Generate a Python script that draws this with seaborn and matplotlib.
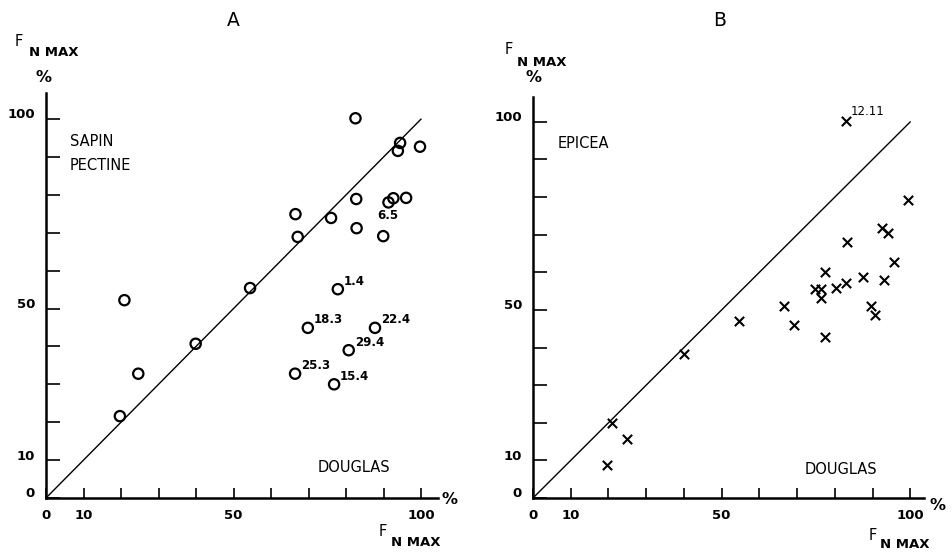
import matplotlib
matplotlib.use("Agg")
import matplotlib.pyplot as plt
import matplotlib.transforms as mtransforms
import numpy as np
import seaborn as sns
import pandas as pd

# panel A : sapin pectine vs douglas (circles)
a_x = [82.5, 94.4, 93.8, 99.7, 82.7, 92.6, 91.3, 96.0, 66.5, 76.0, 82.8, 67.1,
       89.9, 77.8, 54.4, 20.9, 69.8, 87.7, 39.9, 80.7, 24.6, 66.4, 76.8, 19.7]
a_y = [100.2, 93.7, 91.6, 92.7, 78.9, 79.1, 78.0, 79.2, 74.9, 73.9, 71.2, 68.9,
       69.1, 55.1, 55.4, 52.2, 44.9, 44.9, 40.7, 39.0, 32.8, 32.8, 30.0, 21.6]
a_note_text = ['1.4', '18.3', '22.4', '29.4', '25.3', '15.4', '6.5']
a_note_x = [77.8, 69.8, 87.7, 80.7, 66.4, 76.8, 91.3]
a_note_y = [55.1, 44.9, 44.9, 39.0, 32.8, 30.0, 78.0]

# panel B : epicea vs douglas (crosses)
b_x = [83.0, 99.3, 92.5, 94.0, 83.1, 95.6, 77.4, 87.5, 92.9, 83.0, 80.3, 74.8,
       76.3, 76.3, 66.6, 89.6, 90.6, 69.3, 77.5, 54.7, 39.9, 20.9, 24.9, 19.6]
b_y = [100.3, 79.2, 71.8, 70.5, 68.1, 62.8, 60.1, 58.8, 57.9, 57.2, 55.7, 55.5,
       55.5, 53.3, 51.1, 51.0, 48.6, 46.0, 42.7, 47.0, 38.3, 20.0, 15.6, 8.7]
b_note_text = ['12.11']
b_note_x = [83.0]
b_note_y = [100.3]

identity = [0, 100]
ticks = list(range(0, 101, 10))
tick_labels = ['0', '10', '', '', '', '50', '', '', '', '', '100']

sns.set_theme(style='white')
plt.rcParams['font.family'] = ['DejaVu Sans']
plt.rcParams['text.color'] = 'black'
plt.rcParams['xtick.color'] = 'black'
plt.rcParams['ytick.color'] = 'black'
plt.rcParams['xtick.labelcolor'] = 'black'
plt.rcParams['ytick.labelcolor'] = 'black'

W, H = 952, 554
fig = plt.figure(figsize=(W / 100, H / 100), dpi=100)
fig.patch.set_facecolor('white')


def fpos(px, py):
    return px / W, 1 - py / H


ax_a = fig.add_axes([46 / W, 56 / H, 392 / W, 405.5 / H])
ax_b = fig.add_axes([533 / W, 56 / H, 390.5 / W, 401 / H])

df_a = pd.DataFrame({'x': a_x, 'y': a_y})
df_b = pd.DataFrame({'x': b_x, 'y': b_y})
df_line = pd.DataFrame({'x': identity, 'y': identity})

sns.scatterplot(data=df_a, x='x', y='y', ax=ax_a, marker='o', s=55,
                facecolor='none', edgecolor='black', linewidth=1.6, zorder=3)
sns.scatterplot(data=df_b, x='x', y='y', ax=ax_b, marker='x', s=45,
                color='black', linewidth=1.5, zorder=3)

for ax, xmax, ymax in [(ax_a, 104.5, 107), (ax_b, 103.5, 106.6)]:
    sns.lineplot(data=df_line, x='x', y='y', ax=ax, color='black', lw=1.0)
    ax.set_xlim(0, xmax)
    ax.set_ylim(0, ymax)
    ax.set_xlabel('')
    ax.set_ylabel('')
    ax.set_facecolor('white')
    for s in ['top', 'right']:
        ax.spines[s].set_visible(False)
    for s in ['left', 'bottom']:
        ax.spines[s].set_color('black')
        ax.spines[s].set_linewidth(1.8)
    ax.set_xticks(ticks)
    ax.set_xticklabels(tick_labels)
    ax.set_yticks(ticks)
    ax.set_yticklabels(tick_labels)
    ax.set_xticks([50, 100], minor=True)
    ax.tick_params(axis='x', which='major', direction='in', length=7, width=1.2,
                   color='black', pad=8, labelsize=9.5, bottom=True)
    ax.tick_params(axis='x', which='minor', direction='in', length=14, width=1.2,
                   color='black', bottom=True)
    ax.tick_params(axis='y', which='major', direction='in', length=10, width=1.2,
                   color='black', pad=8, labelsize=9.5, left=True)
    for lab in ax.get_xticklabels() + ax.get_yticklabels():
        lab.set_fontweight('bold')
    shift = mtransforms.ScaledTranslation(0, 4 / 72, fig.dpi_scale_trans)
    for lab in ax.get_yticklabels():
        lab.set_transform(lab.get_transform() + shift)

note_font = dict(family=['Liberation Sans Narrow', 'DejaVu Sans'],
                 fontweight='bold', fontsize=8.5, color='black')
for t, x, y in zip(a_note_text, a_note_x, a_note_y):
    if t == '6.5':
        ax_a.annotate(t, (x, y), xytext=(-1, -13), textcoords='offset pixels',
                      ha='center', va='center', **note_font)
    else:
        ax_a.annotate(t, (x, y), xytext=(6, 8), textcoords='offset pixels',
                      ha='left', va='center', **note_font)
for t, x, y in zip(b_note_text, b_note_x, b_note_y):
    ax_b.annotate(t, (x, y), xytext=(5, 9), textcoords='offset pixels',
                  ha='left', va='center', family=['Liberation Sans Narrow', 'DejaVu Sans'],
                  fontsize=8.5, color='black')

# panel letters and captions
fig.text(*fpos(233, 20), 'A', ha='center', va='center', fontsize=13.5)
fig.text(*fpos(720, 20), 'B', ha='center', va='center', fontsize=13.5)
fig.text(*fpos(70, 141), 'SAPIN', ha='left', va='center', fontsize=10.5)
fig.text(*fpos(70, 166), 'PECTINE', ha='left', va='center', fontsize=10.5)
fig.text(*fpos(558, 143), 'EPICEA', ha='left', va='center', fontsize=10.5)
fig.text(*fpos(318, 468), 'DOUGLAS', ha='left', va='center', fontsize=10.5)
fig.text(*fpos(805, 470), 'DOUGLAS', ha='left', va='center', fontsize=10.5)


def fn_label(fx, fy, nx, ny):
    fig.text(*fpos(fx, fy), 'F', ha='center', va='center', fontsize=10.5)
    fig.text(*fpos(nx, ny), 'N MAX', ha='left', va='center', fontsize=9.5,
             fontweight='bold')


fn_label(19, 42, 29, 53)
fn_label(383, 532, 391, 543)
fn_label(509, 50, 517, 62)
fn_label(873, 535, 880, 545)
for px, py in [(44, 77), (450, 500), (533, 78), (938, 506)]:
    fig.text(*fpos(px, py), '%', ha='center', va='center', fontsize=11.5,
             fontweight='bold')

fig.savefig('out.png', dpi=100, facecolor='white')
